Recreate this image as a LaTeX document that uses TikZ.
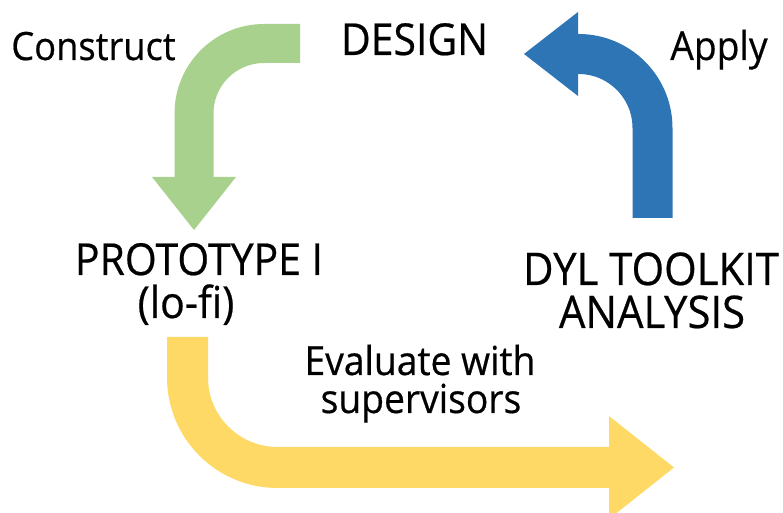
\documentclass[tikz,border=0pt]{standalone}
\usepackage{fontspec}
\setmainfont{Open Sans}
\newfontfamily\lblfont{Open Sans}[FakeStretch = 0.93, FakeBold = 0.5]
\usepackage{tikz}
\usetikzlibrary{arrows.meta}
\usepackage{xcolor}
\definecolor{bandgreen}{HTML}{A9D18E}
\definecolor{bandblue}{HTML}{2E75B6}
\definecolor{bandyellow}{HTML}{FFD966}
\tikzset{
  lbl/.style = {anchor = base, inner sep = 0pt, font = \lblfont\fontsize{#1}{#1}\selectfont},
}

\begin{document}
\begin{tikzpicture}[x = 0.5pt, y = -0.5pt]
\useasboundingbox (0,0) rectangle (783,513);

\coordinate (g_top) at (300,43.5);
\coordinate (g_bot) at (194,178);
\draw[bandgreen, line width = 19.5pt, rounded corners = 35pt] (g_top) -| (g_bot);
\fill[bandgreen] (152,177) -- (236,177) -- (194,230) -- cycle;

\coordinate (b_bot) at (652.5,218);
\coordinate (b_top) at (577,54);
\draw[bandblue, line width = 20pt, rounded corners = 37pt] (b_bot) |- (b_top);
\fill[bandblue] (578,12) -- (578,96) -- (524,54) -- cycle;

\coordinate (y_top) at (187.5,337);
\coordinate (y_end) at (610,467.5);
\draw[bandyellow, line width = 20.5pt, rounded corners = 45pt] (y_top) |- (y_end);
\fill[bandyellow] (609,416) -- (609,519) -- (674,467.5) -- cycle;

\node[lbl = 19.5] (construct) at (93.5,60){Construct};
\node[lbl = 22] (design) at (414.5,55){DESIGN};
\node[lbl = 20] (apply) at (719,60){Apply};

\node[lbl = 22] (proto) at (199,275){PROTOTYPE I};
\node[lbl = 22] (lofi) at (186,318){(lo-fi)};

\node[lbl = 22.5] (dyl) at (651,285){DYL TOOLKIT};
\node[lbl = 22.5] (analysis) at (652,328){ANALYSIS};

\node[lbl = 20] (evaluate) at (420,375){Evaluate with};
\node[lbl = 20] (supervisors) at (421,413){supervisors};
\end{tikzpicture}
\end{document}
